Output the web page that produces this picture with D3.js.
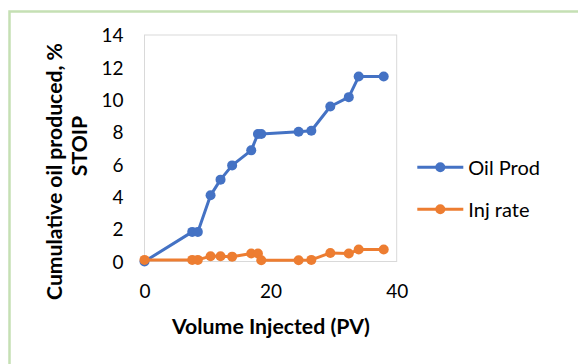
<!DOCTYPE html>
<html>
<head>
<meta charset="utf-8">
<script src="https://cdn.jsdelivr.net/npm/d3@7"></script>
<style>
  html, body { margin: 0; padding: 0; background: #fff; }
  svg { display: block; }
  text { font-family: Lato, "Open Sans", sans-serif; fill: #000; }
</style>
</head>
<body>
<svg id="chart" width="578" height="364"></svg>
<script>
// ---- data ----
const volumeInjected = [0, 7.57, 8.46, 10.48, 12.06, 13.9, 16.93, 17.99, 18.52, 24.44, 26.46, 29.47, 32.4, 33.97, 37.94];
const oilProd        = [0, 1.83, 1.83, 4.09, 5.06, 5.94, 6.87, 7.88, 7.88, 8.02, 8.08, 9.58, 10.16, 11.43, 11.43];
const injRate        = [0.1, 0.1, 0.1, 0.33, 0.33, 0.3, 0.49, 0.49, 0.08, 0.08, 0.1, 0.53, 0.49, 0.74, 0.74];
const seriesNames    = ["Oil Prod", "Inj rate"];
const xTicks         = [0, 20, 40];
const yTicks         = [0, 2, 4, 6, 8, 10, 12, 14];
const xTitle         = "Volume Injected (PV)";
const yTitleLines    = ["Cumulative oil produced, %", "STOIP"];

const colors = ["#4472C4", "#ED7D31"];
const svg = d3.select("#chart");

// outer green frame (extends past the viewport on right and bottom)
svg.append("rect")
  .attr("x", 9.5).attr("y", 11.5).attr("width", 640).attr("height", 420)
  .attr("fill", "none").attr("stroke", "#C5E0B4").attr("stroke-width", 2.5);

const plot = { left: 144.5, right: 396.7, top: 35, bottom: 261.5 };
const x = d3.scaleLinear().domain([0, 40]).range([plot.left, plot.right]);
const y = d3.scaleLinear().domain([0, 14]).range([plot.bottom, plot.top]);

// plot area border
svg.append("rect")
  .attr("x", plot.left).attr("y", plot.top)
  .attr("width", plot.right - plot.left).attr("height", plot.bottom - plot.top)
  .attr("fill", "none").attr("stroke", "#D9D9D9").attr("stroke-width", 1);

function fitText(sel, target) {
  const node = sel.node();
  const fs = parseFloat(sel.attr("font-size"));
  const w = node.getComputedTextLength();
  if (w > 0) sel.attr("font-size", (fs * target / w).toFixed(2));
}

// y axis labels
const yAxis = d3.axisLeft(y).tickValues(yTicks).tickSize(0).tickPadding(0);
const gy = svg.append("g").attr("transform", `translate(123.5,0)`).call(yAxis);
gy.select(".domain").remove();
gy.selectAll("text").attr("font-size", 19).attr("font-family", "Lato").attr("fill", "#000")
  .attr("dy", "0.36em").attr("x", 0);

// x axis labels
const xAxis = d3.axisBottom(x).tickValues(xTicks).tickSize(0).tickPadding(0);
const gx = svg.append("g").attr("transform", `translate(0,${plot.bottom})`).call(xAxis);
gx.select(".domain").remove();
gx.selectAll("text").attr("font-size", 19).attr("font-family", "Lato").attr("fill", "#000")
  .attr("dy", null).attr("y", 298.3 - plot.bottom);

// series
const seriesVals = [oilProd, injRate];
const line = d3.line().x(d => x(d[0])).y(d => y(d[1]));
seriesVals.forEach((vals, i) => {
  const pts = volumeInjected.map((v, k) => [v, vals[k]]);
  const g = svg.append("g");
  g.append("path").datum(pts).attr("d", line)
    .attr("fill", "none").attr("stroke", colors[i]).attr("stroke-width", 3)
    .attr("stroke-linejoin", "round");
  g.selectAll("circle").data(pts).join("circle")
    .attr("cx", d => x(d[0])).attr("cy", d => y(d[1])).attr("r", 5)
    .attr("fill", colors[i]);
});

// axis titles
const xt = svg.append("text").attr("x", 271).attr("y", 334)
  .attr("text-anchor", "middle").attr("font-weight", "bold").attr("font-size", 19)
  .text(xTitle);
fitText(xt, 198);

const yt1 = svg.append("text")
  .attr("transform", "translate(62,171.5) rotate(-90)")
  .attr("text-anchor", "middle").attr("font-weight", "bold").attr("font-size", 19)
  .text(yTitleLines[0]);
fitText(yt1, 257);
svg.append("text")
  .attr("transform", "translate(87,146) rotate(-90)")
  .attr("text-anchor", "middle").attr("font-weight", "bold").attr("font-size", yt1.attr("font-size"))
  .text(yTitleLines[1]);

// legend
const legY = [167.3, 209.3];
seriesNames.forEach((name, i) => {
  const g = svg.append("g");
  g.append("line").attr("x1", 417.3).attr("x2", 463.3).attr("y1", legY[i]).attr("y2", legY[i])
    .attr("stroke", colors[i]).attr("stroke-width", 3);
  g.append("circle").attr("cx", 440.3).attr("cy", legY[i]).attr("r", 5).attr("fill", colors[i]);
  g.append("text").attr("x", 468.3).attr("y", legY[i] + 7.5)
    .attr("font-size", 20).text(name);
});
</script>
</body>
</html>
